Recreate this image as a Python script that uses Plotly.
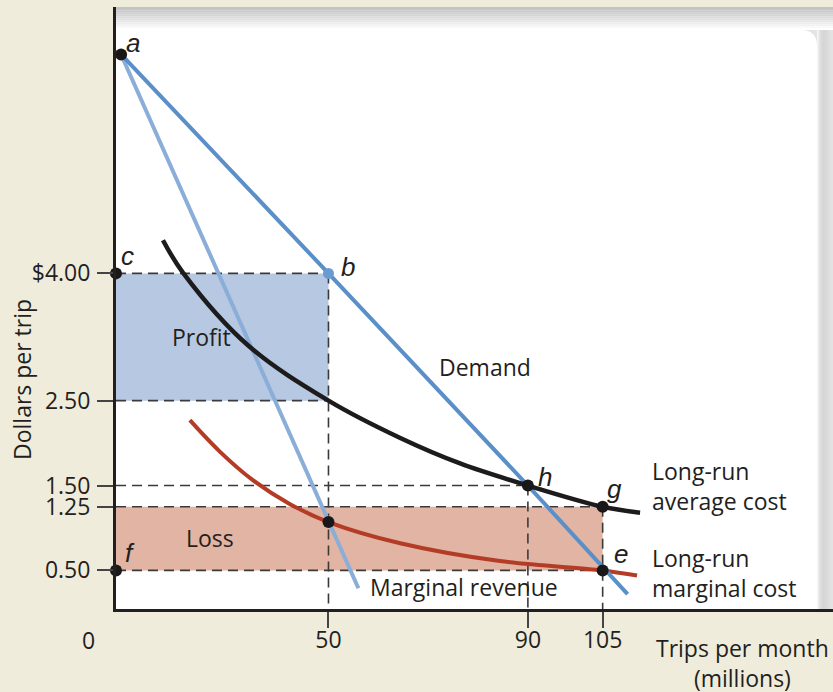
import plotly.graph_objects as go

# ---------------- data ----------------
PRICE_TICKS = [0.50, 1.25, 1.50, 2.50, 4.00]
PRICE_TICK_TEXT = ["0.50", "1.25", "1.50", "2.50", "$4.00"]
QTY_TICKS = [50, 90, 105]
QTY_TICK_TEXT = ["50", "90", "105"]

demand_q = [8.4, 50, 90, 110]
demand_p = [6.58, 4.00, 1.50, 0.22]

mr_q = [8.4, 56.0]
mr_p = [6.58, 0.29]

atc_q = [16.8, 20.8, 33.9, 50, 64.4, 76.4, 90, 105, 112.5]
atc_p = [4.39, 4.01, 3.15, 2.50, 2.06, 1.76, 1.50, 1.25, 1.18]

mc_q = [22.2, 28.2, 34.9, 42.3, 50, 64.4, 84.4, 105, 111.9]
mc_p = [2.27, 1.90, 1.56, 1.28, 1.07, 0.82, 0.61, 0.50, 0.44]

# key quantities / prices
Q_PROFIT, P_PROFIT, ATC_PROFIT, MC_PROFIT = 50, 4.00, 2.50, 1.07
Q_H, P_H = 90, 1.50
Q_LOSS, P_LOSS, ATC_LOSS = 105, 0.50, 1.25
Q_A, P_A = 8.4, 6.58

# axis extents (the schematic's vertical axis sits a little right of q=0)
AXIS_Q, Q_MAX = 7.38, 151.2
P_MIN, P_MAX = 0.045, 7.139

# ---------------- styling ----------------
FONT = "Open Sans"
LETTER_FONT = "Liberation Sans"
TXT = "#231f20"
BEIGE = "#f0ecdc"
DEMAND_C = "#5a8fc8"
MR_C = "#8aaed7"
ATC_C = "#1e1b1c"
MC_C = "#b43c27"
PROFIT_FILL = "#b6c8e2"
LOSS_FILL = "#e1b4a4"
DASH_C = "#3a3a3a"

W, H = 833, 692
ML, MR_, MT, MB = 116, 0, 7, 83
PW, PH = W - ML - MR_, H - MT - MB


def px(x):
    return (x - ML) / PW


def py(y):
    return (H - MB - y) / PH


fig = go.Figure()

# fills
fig.add_trace(go.Scatter(
    x=[AXIS_Q, Q_PROFIT, Q_PROFIT, AXIS_Q, AXIS_Q],
    y=[ATC_PROFIT, ATC_PROFIT, P_PROFIT, P_PROFIT, ATC_PROFIT],
    fill="toself", fillcolor=PROFIT_FILL, mode="none", hoverinfo="skip"))
fig.add_trace(go.Scatter(
    x=[AXIS_Q, Q_LOSS, Q_LOSS, AXIS_Q, AXIS_Q],
    y=[P_LOSS, P_LOSS, ATC_LOSS, ATC_LOSS, P_LOSS],
    fill="toself", fillcolor=LOSS_FILL, mode="none", hoverinfo="skip"))

# dashed guide lines
for seg in [
    ((AXIS_Q, P_PROFIT), (Q_PROFIT, P_PROFIT)),
    ((AXIS_Q, ATC_PROFIT), (Q_PROFIT, ATC_PROFIT)),
    ((Q_PROFIT, P_PROFIT), (Q_PROFIT, P_MIN)),
    ((AXIS_Q, P_H), (Q_H, P_H)),
    ((Q_H, P_H), (Q_H, P_MIN)),
    ((AXIS_Q, ATC_LOSS), (Q_LOSS, ATC_LOSS)),
    ((AXIS_Q, P_LOSS), (Q_LOSS, P_LOSS)),
    ((Q_LOSS, ATC_LOSS), (Q_LOSS, P_MIN)),
]:
    fig.add_trace(go.Scatter(x=[seg[0][0], seg[1][0]], y=[seg[0][1], seg[1][1]],
                             mode="lines", line=dict(color=DASH_C, width=1.6, dash="10px,6px"),
                             hoverinfo="skip"))

# curves
fig.add_trace(go.Scatter(x=mc_q, y=mc_p, mode="lines",
                         line=dict(color=MC_C, width=4, shape="spline", smoothing=1.0), hoverinfo="skip"))
fig.add_trace(go.Scatter(x=mr_q, y=mr_p, mode="lines",
                         line=dict(color=MR_C, width=4), hoverinfo="skip"))
fig.add_trace(go.Scatter(x=demand_q, y=demand_p, mode="lines",
                         line=dict(color=DEMAND_C, width=4), hoverinfo="skip"))
fig.add_trace(go.Scatter(x=atc_q, y=atc_p, mode="lines",
                         line=dict(color=ATC_C, width=4.5, shape="spline", smoothing=1.0), hoverinfo="skip"))

# dots
fig.add_trace(go.Scatter(
    x=[Q_A, AXIS_Q, AXIS_Q, Q_H, Q_LOSS, Q_LOSS, Q_PROFIT],
    y=[P_A, P_PROFIT, P_LOSS, P_H, ATC_LOSS, P_LOSS, MC_PROFIT],
    mode="markers", marker=dict(color="#1a1718", size=12), cliponaxis=False, hoverinfo="skip"))
fig.add_trace(go.Scatter(x=[Q_PROFIT], y=[P_PROFIT], mode="markers",
                         marker=dict(color="#6a9bd0", size=11), cliponaxis=False, hoverinfo="skip"))

# background panel decoration (gray gradient header / right edge with rounded corner)
shapes = []
n = 12
for i in range(n):
    t = i / (n - 1)
    c = int(196 + (255 - 196) * t ** 1.2)
    y0 = 7 + (30 - 7) * i / n
    y1 = 7 + (30 - 7) * (i + 1) / n
    shapes.append(dict(type="rect", xref="paper", yref="paper", x0=0, x1=1,
                       y0=py(y1), y1=py(y0), fillcolor=f"rgb({c},{c},{min(c + 2, 255)})",
                       line=dict(width=0), layer="below"))
right_cols = [246, 236, 228, 222, 218, 215, 214, 214, 215, 217, 219, 221, 223, 225, 226, 227]
for i, c in enumerate(right_cols):
    x0 = 817 + i
    shapes.append(dict(type="rect", xref="paper", yref="paper", x0=px(x0), x1=px(x0 + 1.05),
                       y0=0, y1=py(30), fillcolor=f"rgb({c},{c},{c})",
                       line=dict(width=0), layer="below"))
# rounded corner
r = 16
cx, cy = 817, 30
path = (f"M {px(cx - r)},{py(cy)} L {px(cx)},{py(cy)} L {px(cx)},{py(cy + r)} "
        f"Q {px(cx)},{py(cy)} {px(cx - r)},{py(cy)} Z")
shapes.append(dict(type="path", xref="paper", yref="paper", path=path,
                   fillcolor="rgb(228,228,229)", line=dict(width=0), layer="below"))

# annotations
ann = []


def lab(x, y, text, size=23, xanchor="center", yanchor="middle", italic=False, xref="x", yref="y",
        align="center", angle=0, family=FONT):
    ann.append(dict(x=x, y=y, xref=xref, yref=yref, text=f"<i>{text}</i>" if italic else text,
                    showarrow=False, xanchor=xanchor, yanchor=yanchor, align=align,
                    textangle=angle, font=dict(family=family, size=size, color=TXT)))


for lx, ly, t in [(10.8, 6.72, "a"), (53.9, 4.08, "b"), (9.6, 4.21, "c"), (10.2, 0.70, "f"),
                  (93.4, 1.60, "h"), (107.3, 1.46, "g"), (108.7, 0.69, "e")]:
    lab(lx, ly, t, size=26, italic=True, family=LETTER_FONT)

lab(24.6, 3.25, "Profit")
lab(26.3, 0.88, "Loss")
lab(81.4, 2.90, "Demand")
lab(57.9, 0.31, "Marginal revenue", xanchor="left")
lab(114.4, 1.49, "Long-run<br>average cost", xanchor="left", align="left")
lab(114.4, 0.47, "Long-run<br>marginal cost", xanchor="left", align="left")

lab(px(742), py(663), "Trips per month<br>(millions)", xref="paper", yref="paper")
lab(px(88), py(640), "0", xref="paper", yref="paper")
lab(px(22), py(380), "Dollars per trip", xref="paper", yref="paper", angle=-90)

fig.update_layout(
    width=W, height=H,
    margin=dict(l=ML, r=MR_, t=MT, b=MB, pad=0),
    paper_bgcolor=BEIGE, plot_bgcolor="white",
    showlegend=False,
    shapes=shapes, annotations=ann,
    font=dict(family=FONT, color=TXT, size=23),
    xaxis=dict(range=[AXIS_Q, Q_MAX], showgrid=False, zeroline=False,
               showline=True, linecolor=TXT, linewidth=3,
               tickvals=QTY_TICKS, ticktext=QTY_TICK_TEXT, ticks="outside",
               ticklen=16, tickwidth=1.6, tickcolor="#444", ticklabelstandoff=-8,
               tickfont=dict(family=FONT, size=23, color=TXT), fixedrange=True),
    yaxis=dict(range=[P_MIN, P_MAX], showgrid=False, zeroline=False,
               showline=True, linecolor=TXT, linewidth=3,
               tickvals=PRICE_TICKS, ticktext=PRICE_TICK_TEXT, ticks="outside",
               ticklen=16, tickwidth=1.6, tickcolor="#444", ticklabelstandoff=2,
               tickfont=dict(family=FONT, size=23, color=TXT), fixedrange=True),
)

fig.write_html(
    "out.html",
    config={"displayModeBar": False},
    post_script="document.body.style.margin='0';document.body.style.background='%s';" % BEIGE,
)
